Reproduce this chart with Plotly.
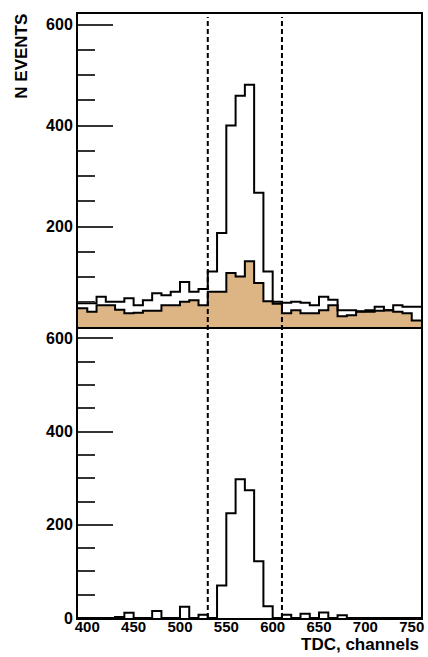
import plotly.graph_objects as go

# ---------------- data ----------------
bin_width = 10
bin_lefts = list(range(390, 760, 10))          # 37 bins of TDC channels, 390..760
x_ticks = [400, 450, 500, 550, 600, 650, 700, 750]
y_ticks = [0, 200, 400, 600]
y_minor = [50, 100, 150, 250, 300, 350, 450, 500, 550]
cut_lines = [530, 610]

all_events = [48, 48, 61, 51, 51, 58, 44, 54, 68, 64, 71, 90, 71, 76,
              111, 187, 400, 459, 481, 267, 111, 51,
              49, 51, 49, 44, 61, 55, 34, 34, 32, 34, 41, 34, 44, 41, 41]
background = [38, 31, 44, 44, 35, 28, 29, 33, 33, 44, 44, 51, 54, 44,
              71, 71, 108, 101, 131, 88, 52, 47,
              28, 34, 28, 28, 34, 44, 22, 24, 31, 31, 33, 34, 31, 28, 14]
subtracted = [0, 0, 0, 0, 2, 11, 0, 0, 15, 0, 0, 24, 0, 7,
              0, 70, 225, 298, 274, 122, 25, 0,
              7, 0, 9, 0, 12, 0, 6, 0, 0, 0, 0, 0, 0, 0, 0]

# ---------------- figure ----------------
edges = bin_lefts + [bin_lefts[-1] + bin_width]

def steps(vals):
    return vals + [vals[-1]]

TAN = "#DDB584"
fig = go.Figure()

fig.add_trace(go.Scatter(x=edges, y=steps(background), mode="lines", line_shape="hv",
                         fill="tozeroy", fillcolor=TAN,
                         line=dict(color="black", width=2), xaxis="x", yaxis="y",
                         showlegend=False, hoverinfo="skip"))
fig.add_trace(go.Scatter(x=edges, y=steps(all_events), mode="lines", line_shape="hv",
                         line=dict(color="black", width=2), xaxis="x", yaxis="y",
                         showlegend=False, hoverinfo="skip"))
fig.add_trace(go.Scatter(x=edges, y=steps(subtracted), mode="lines", line_shape="hv",
                         line=dict(color="black", width=2), xaxis="x2", yaxis="y2",
                         showlegend=False, hoverinfo="skip"))

tickfont = dict(family="Liberation Sans", size=16, color="black", weight="bold")
xtickfont = dict(family="Liberation Sans", size=15, color="black", weight="bold")
x_common = dict(range=[390, 760], showline=True, mirror=True, linecolor="black",
                linewidth=2, ticks="", showgrid=False, zeroline=False)
y_common = dict(range=[0, 621], showline=True, mirror=True, linecolor="black",
                linewidth=2, ticks="inside", ticklen=35, tickwidth=1.5,
                tickcolor="#333", showgrid=False, zeroline=False,
                tickmode="array", tickfont=tickfont,
                minor=dict(tickmode="array", tickvals=y_minor, ticks="inside",
                           ticklen=17, tickwidth=1.5, tickcolor="#333"))

fig.update_layout(
    width=428, height=657,
    margin=dict(l=78, r=4, t=14, b=39),
    paper_bgcolor="white", plot_bgcolor="white",
    xaxis=dict(domain=[0, 1], anchor="y", showticklabels=False, matches="x2", **x_common),
    yaxis=dict(domain=[0.481, 1], anchor="x", tickvals=y_ticks,
               ticktext=["" if v == 0 else str(v) for v in y_ticks], **y_common),
    xaxis2=dict(domain=[0, 1], anchor="y2", tickmode="array", tickvals=x_ticks,
                ticktext=[str(v) for v in x_ticks], tickfont=xtickfont,
                ticklabelstandoff=-6, **x_common),
    yaxis2=dict(domain=[0, 0.479], anchor="x2", tickvals=y_ticks,
                ticktext=[str(v) for v in y_ticks], **y_common),
)

for xv in cut_lines:
    fig.add_shape(type="line", xref="x", yref="paper", x0=xv, x1=xv, y0=0, y1=0.995,
                  line=dict(color="black", width=2, dash="5px,3px"), layer="above")

fig.add_annotation(text="N EVENTS", xref="paper", yref="paper", x=-0.165, y=0.93,
                   textangle=-90, showarrow=False, xanchor="center", yanchor="middle",
                   font=dict(family="Liberation Sans", size=17, color="black", weight="bold"))
fig.add_annotation(text="TDC, channels", xref="paper", yref="paper", x=1.0, y=-0.0625,
                   showarrow=False, xanchor="right", yanchor="bottom",
                   font=dict(family="Liberation Sans", size=17, color="black", weight="bold"))

fig.write_html("out.html")
